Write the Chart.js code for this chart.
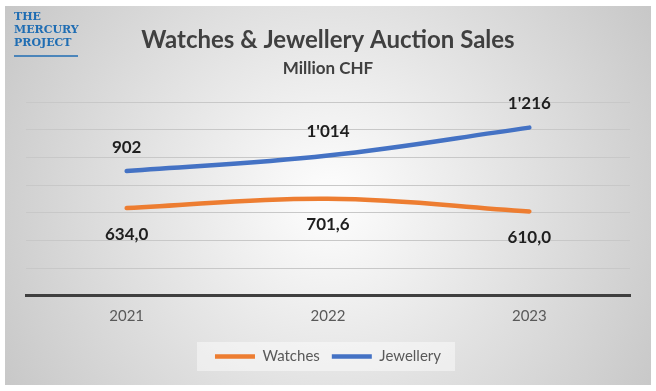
<!DOCTYPE html>
<html>
<head>
<meta charset="utf-8">
<script src="https://cdn.jsdelivr.net/npm/chart.js@4"></script>
<style>
  body { margin: 0; background: #fff; }
  #wrap { width: 656px; height: 391px; position: relative; }
</style>
</head>
<body>
<div id="wrap"><canvas id="sales-chart"></canvas></div>
<script>
const years = ["2021", "2022", "2023"];
const watches = [634.0, 701.6, 610.0];
const jewellery = [902, 1014, 1216];
const logoLines = ["THE", "MERCURY", "PROJECT"];

// 1'014 style for jewellery, 634,0 style for watches
const fmtThousands = (v) => String(Math.round(v)).replace(/\B(?=(\d{3})+(?!\d))/g, "'");
const fmtDecimal = (v) => v.toFixed(1).replace(".", ",");

const backgroundPlugin = {
    id: "panelBackground",
    beforeDraw(chart) {
        const ctx = chart.ctx;
        const x0 = 5, y0 = 6, x1 = 651, y1 = 385;
        ctx.save();
        const g = ctx.createRadialGradient(330, 200, 20, 330, 200, 400);
        g.addColorStop(0, "#fbfbfb");
        g.addColorStop(1, "#c4c4c4");
        ctx.fillStyle = g;
        ctx.fillRect(x0, y0, x1 - x0, y1 - y0);

        // legend panel
        const boxes = chart.legend.legendHitBoxes;
        if (boxes && boxes.length) {
            const minX = Math.min(...boxes.map((b) => b.left));
            const maxX = Math.max(...boxes.map((b) => b.left + b.width));
            const cy = boxes[0].top + boxes[0].height / 2;
            ctx.fillStyle = "rgba(255,255,255,0.45)";
            ctx.fillRect(minX - 18, cy - 14.5, maxX - minX + 32, 29);
        }

        // logo
        ctx.fillStyle = "#1f6db3";
        ctx.font = "bold 11px 'DejaVu Serif'";
        ctx.textBaseline = "middle";
        logoLines.forEach((t, i) => ctx.fillText(t, 14, 17 + i * 13));
        ctx.strokeStyle = "#1f6db3";
        ctx.lineWidth = 1.5;
        ctx.beginPath();
        ctx.moveTo(14, 56);
        ctx.lineTo(78, 56);
        ctx.stroke();
        ctx.restore();
    },
};

const valueLabelsPlugin = {
    id: "valueLabels",
    afterDatasetsDraw(chart) {
        const ctx = chart.ctx;
        ctx.save();
        ctx.font = "bold 17px Lato";
        ctx.fillStyle = "#1f1f1f";
        ctx.textAlign = "center";
        ctx.textBaseline = "middle";
        chart.data.datasets.forEach((ds, i) => {
            chart.getDatasetMeta(i).data.forEach((pt, j) => {
                const v = ds.data[j];
                const txt = ds.above ? fmtThousands(v) : fmtDecimal(v);
                const dy = ds.above ? -24 : 26;
                ctx.fillText(txt, pt.x, pt.y + dy);
            });
        });
        ctx.restore();
    },
};

new Chart(document.getElementById("sales-chart"), {
    type: "line",
    data: {
        labels: years,
        datasets: [
            {
                label: "Watches",
                data: watches,
                borderColor: "#ed7d31",
                backgroundColor: "#ed7d31",
                borderWidth: 4.5,
                borderCapStyle: "round",
                tension: 0.4,
                pointRadius: 0,
                above: false,
            },
            {
                label: "Jewellery",
                data: jewellery,
                borderColor: "#4472c4",
                backgroundColor: "#4472c4",
                borderWidth: 4.5,
                borderCapStyle: "round",
                tension: 0.4,
                pointRadius: 0,
                above: true,
            },
        ],
    },
    options: {
        responsive: true,
        maintainAspectRatio: false,
        animation: false,
        layout: { padding: { left: 26, right: 26, top: 0, bottom: 17 } },
        plugins: {
            title: {
                display: true,
                text: "Watches & Jewellery Auction Sales",
                color: "#404040",
                font: { family: "Lato", size: 24, weight: "bold" },
                padding: { top: 26, bottom: 3 },
            },
            subtitle: {
                display: true,
                text: "Million CHF",
                color: "#404040",
                font: { family: "Lato", size: 17, weight: "bold" },
                padding: { top: 1, bottom: 23 },
            },
            legend: {
                position: "bottom",
                labels: {
                    usePointStyle: true,
                    pointStyle: "line",
                    pointStyleWidth: 40,
                    color: "#595959",
                    font: { family: "Lato", size: 15 },
                    padding: 12,
                },
            },
            tooltip: { enabled: false },
        },
        scales: {
            x: {
                offset: true,
                grid: { display: false, drawTicks: false },
                border: { display: true, color: "#3f3f3f", width: 3 },
                ticks: {
                    color: "#595959",
                    font: { family: "Lato", size: 15, lineHeight: 0.75 },
                    padding: 15,
                },
            },
            y: {
                min: 0,
                max: 1400,
                ticks: { display: false, stepSize: 200 },
                grid: { color: "#c8c8c8", lineWidth: 1, drawTicks: false },
                border: { display: false },
            },
        },
    },
    plugins: [backgroundPlugin, valueLabelsPlugin],
});
</script>
</body>
</html>
